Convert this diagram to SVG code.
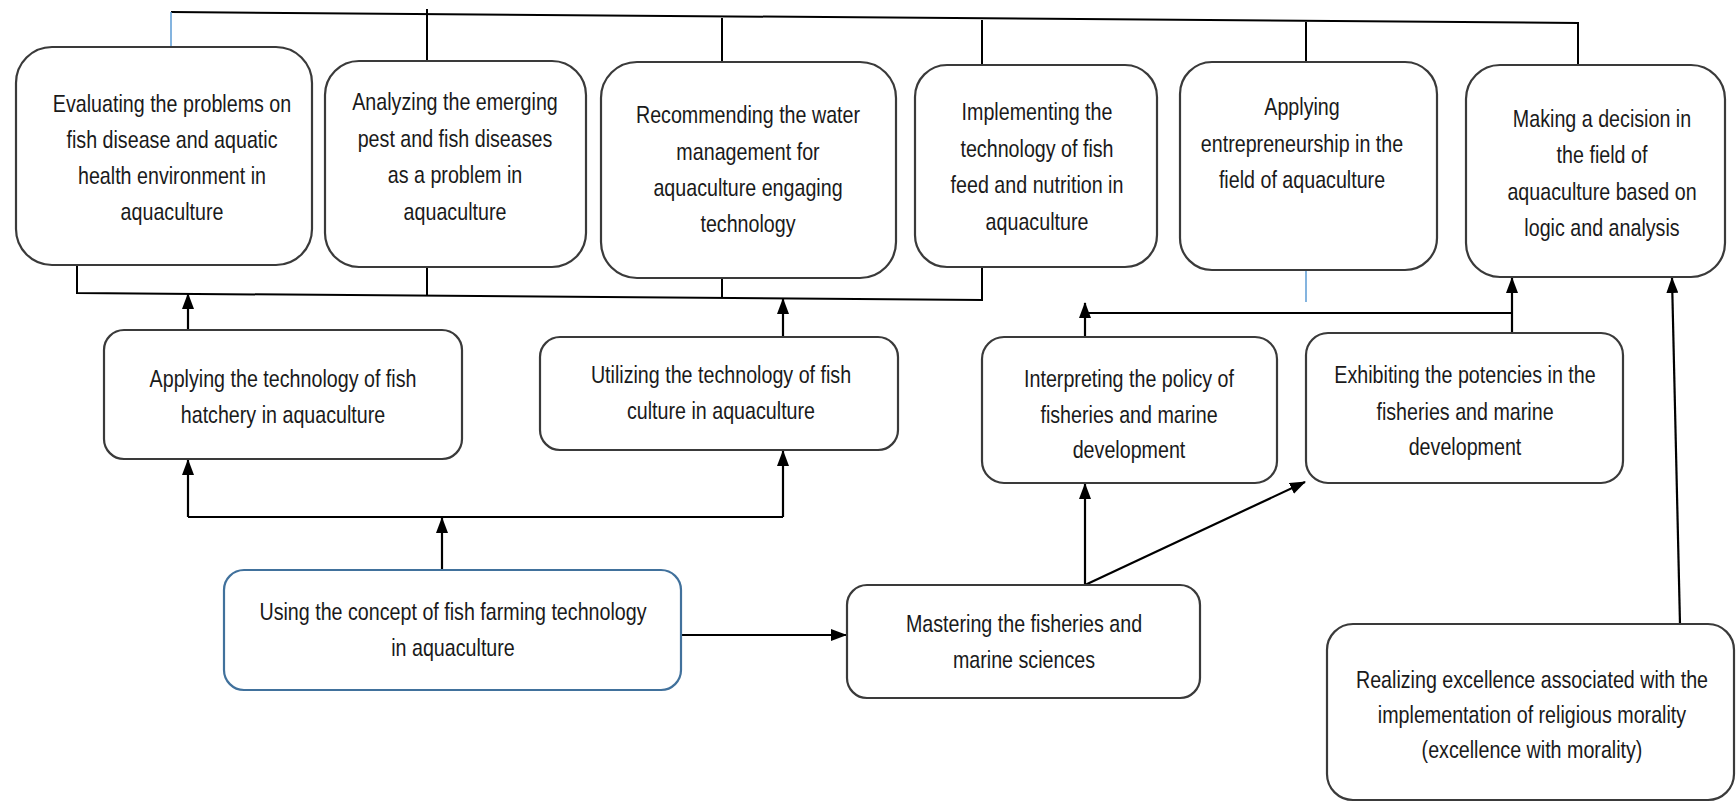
<svg xmlns="http://www.w3.org/2000/svg" width="1736" height="803" viewBox="0 0 1736 803">
<defs>
<marker id="ah" markerUnits="userSpaceOnUse" markerWidth="16" markerHeight="12" refX="15" refY="6" orient="auto">
<path d="M0,0 L16,6 L0,12 z" fill="#000"/>
</marker>
<style>
.box{fill:#fff;stroke:#3a3a3a;stroke-width:2.2}
.blue{stroke:#41719c}
.t{font-family:"Liberation Sans",Arial,sans-serif;font-size:24px;fill:#1a1a1a;text-anchor:middle}
.c{fill:none;stroke:#000;stroke-width:2}
.cb{fill:none;stroke:#5b9bd5;stroke-width:1.5}
.a{fill:none;stroke:#000;stroke-width:2.2;marker-end:url(#ah)}
</style>
</defs>
<rect width="1736" height="803" fill="#fff"/>
<g id="connectors">
<polyline class="c" points="171,12 1578,23 1578,65"/>
<line class="cb" x1="171" y1="12" x2="171" y2="47"/>
<line class="c" x1="427" y1="9" x2="427" y2="61"/>
<line class="c" x1="722" y1="18" x2="722" y2="62"/>
<line class="c" x1="982" y1="20" x2="982" y2="65"/>
<line class="c" x1="1306" y1="22" x2="1306" y2="62"/>
<polyline class="c" points="77,265 77,293 982,300 982,267"/>
<line class="c" x1="427" y1="267" x2="427" y2="296"/>
<line class="c" x1="722" y1="278" x2="722" y2="298"/>
<line class="a" x1="188" y1="330" x2="188" y2="294"/>
<line class="a" x1="783" y1="337" x2="783" y2="299"/>
<line class="cb" x1="1306" y1="270" x2="1306" y2="302"/>
<polyline class="c" points="1085,313 1512,313"/>
<line class="a" x1="1085" y1="337" x2="1085" y2="303"/>
<line class="a" x1="1512" y1="333" x2="1512" y2="278"/>
<line class="a" x1="1680" y1="624" x2="1672" y2="278"/>
<polyline class="c" points="188,517 783,517"/>
<line class="a" x1="442" y1="570" x2="442" y2="518"/>
<line class="a" x1="188" y1="517" x2="188" y2="460"/>
<line class="a" x1="783" y1="517" x2="783" y2="451"/>
<line class="a" x1="681" y1="635" x2="846" y2="635"/>
<line class="a" x1="1085" y1="585" x2="1085" y2="484"/>
<line class="a" x1="1085" y1="585" x2="1305" y2="482"/>
</g>
<g id="n1">
<rect class="box" x="16" y="47" width="296" height="218" rx="36"/>
<g transform="translate(172,0) scale(0.82,1)">
<text class="t" x="0" y="112">Evaluating the problems on</text>
<text class="t" x="0" y="148">fish disease and aquatic</text>
<text class="t" x="0" y="184">health environment in</text>
<text class="t" x="0" y="220">aquaculture</text>
</g>
</g>
<g id="n2">
<rect class="box" x="325" y="61" width="261" height="206" rx="34"/>
<g transform="translate(455,0) scale(0.82,1)">
<text class="t" x="0" y="110">Analyzing the emerging</text>
<text class="t" x="0" y="147">pest and fish diseases</text>
<text class="t" x="0" y="183">as a problem in</text>
<text class="t" x="0" y="220">aquaculture</text>
</g>
</g>
<g id="n3">
<rect class="box" x="601" y="62" width="295" height="216" rx="36"/>
<g transform="translate(748,0) scale(0.82,1)">
<text class="t" x="0" y="123">Recommending the water</text>
<text class="t" x="0" y="160">management for</text>
<text class="t" x="0" y="196">aquaculture engaging</text>
<text class="t" x="0" y="232">technology</text>
</g>
</g>
<g id="n4">
<rect class="box" x="915" y="65" width="242" height="202" rx="32"/>
<g transform="translate(1037,0) scale(0.82,1)">
<text class="t" x="0" y="120">Implementing the</text>
<text class="t" x="0" y="157">technology of fish</text>
<text class="t" x="0" y="193">feed and nutrition in</text>
<text class="t" x="0" y="230">aquaculture</text>
</g>
</g>
<g id="n5">
<rect class="box" x="1180" y="62" width="257" height="208" rx="32"/>
<g transform="translate(1302,0) scale(0.82,1)">
<text class="t" x="0" y="115">Applying</text>
<text class="t" x="0" y="152">entrepreneurship in the</text>
<text class="t" x="0" y="188">field of aquaculture</text>
</g>
</g>
<g id="n6">
<rect class="box" x="1466" y="65" width="259" height="212" rx="34"/>
<g transform="translate(1602,0) scale(0.82,1)">
<text class="t" x="0" y="127">Making a decision in</text>
<text class="t" x="0" y="163">the field of</text>
<text class="t" x="0" y="200">aquaculture based on</text>
<text class="t" x="0" y="236">logic and analysis</text>
</g>
</g>
<g id="n7">
<rect class="box" x="104" y="330" width="358" height="129" rx="20"/>
<g transform="translate(283,0) scale(0.82,1)">
<text class="t" x="0" y="387">Applying the technology of fish</text>
<text class="t" x="0" y="423">hatchery in aquaculture</text>
</g>
</g>
<g id="n8">
<rect class="box" x="540" y="337" width="358" height="113" rx="20"/>
<g transform="translate(721,0) scale(0.82,1)">
<text class="t" x="0" y="383">Utilizing the technology of fish</text>
<text class="t" x="0" y="419">culture in aquaculture</text>
</g>
</g>
<g id="n9">
<rect class="box" x="982" y="337" width="295" height="146" rx="22"/>
<g transform="translate(1129,0) scale(0.82,1)">
<text class="t" x="0" y="387">Interpreting the policy of</text>
<text class="t" x="0" y="423">fisheries and marine</text>
<text class="t" x="0" y="458">development</text>
</g>
</g>
<g id="n10">
<rect class="box" x="1306" y="333" width="317" height="150" rx="22"/>
<g transform="translate(1465,0) scale(0.82,1)">
<text class="t" x="0" y="383">Exhibiting the potencies in the</text>
<text class="t" x="0" y="420">fisheries and marine</text>
<text class="t" x="0" y="455">development</text>
</g>
</g>
<g id="n11">
<rect class="box blue" x="224" y="570" width="457" height="120" rx="20"/>
<g transform="translate(453,0) scale(0.82,1)">
<text class="t" x="0" y="620">Using the concept of fish farming technology</text>
<text class="t" x="0" y="656">in aquaculture</text>
</g>
</g>
<g id="n12">
<rect class="box" x="847" y="585" width="353" height="113" rx="20"/>
<g transform="translate(1024,0) scale(0.82,1)">
<text class="t" x="0" y="632">Mastering the fisheries and</text>
<text class="t" x="0" y="668">marine sciences</text>
</g>
</g>
<g id="n13">
<rect class="box" x="1327" y="624" width="407" height="176" rx="26"/>
<g transform="translate(1532,0) scale(0.82,1)">
<text class="t" x="0" y="688">Realizing excellence associated with the</text>
<text class="t" x="0" y="723">implementation of religious morality</text>
<text class="t" x="0" y="758">(excellence with morality)</text>
</g>
</g>
</svg>
